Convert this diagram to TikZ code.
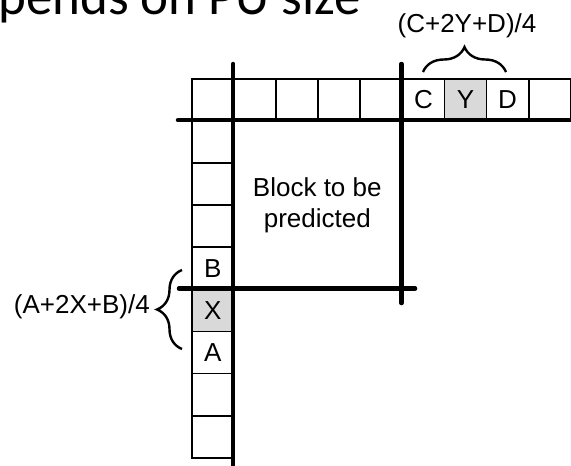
\documentclass[tikz,border=0pt]{standalone}
\usepackage{fontspec}
\setmainfont{Liberation Sans}
\newfontfamily\titlefont{Carlito}
\usetikzlibrary{decorations.pathreplacing}
\begin{document}
\begin{tikzpicture}[x=1pt,y=-1pt,
  cell/.style={draw=black, line width=1.7pt, minimum size=42.1pt, inner sep=0pt, anchor=north west, font=\fontsize{26}{31}\selectfont},
  hot/.style={cell, fill=gray!30},
  thickline/.style={line width=4.5pt, line cap=round},
  bracedec/.style={decorate, decoration={brace, amplitude=25pt}, line width=2.4pt},
  lbl/.style={font=\fontsize{26}{31}\selectfont, inner sep=0pt}]
\useasboundingbox (0,0) rectangle (571,466);
\clip (0,0) rectangle (571,466);
% title (cut off)
\node[font=\titlefont\fontsize{53}{60}\selectfont, anchor=base west, inner sep=0pt] (title) at (-2,14.5) {pends on PU size};
% top row
\foreach \i/\t in {0/,1/,2/,3/,4/,5/C,7/D,8/}{
  \node[cell] (t\i) at ({191+42.1*\i},78) {\t};
}
\node[hot] (t6) at ({191+42.1*6},78) {Y};
% left column
\foreach \j/\t in {1/,2/,3/,4/B,6/A,7/,8/}{
  \node[cell] (l\j) at (191,{78+42.1*\j}) {\t};
}
\node[hot] (l5) at (191,{78+42.1*5}) {X};
% thick lines
\coordinate (v1top) at (233.1,64);
\coordinate (v1bot) at (233.1,475);
\coordinate (h1l) at (178,120.1);
\coordinate (h1r) at (580,120.1);
\coordinate (v2top) at (401.5,64);
\coordinate (v2bot) at (401.5,303);
\coordinate (h2l) at (179,288.5);
\coordinate (h2r) at (415,288.5);
\draw[thickline] (v1top) -- (v1bot);
\draw[thickline] (h1l) -- (h1r);
\draw[thickline] (v2top) -- (v2bot);
\draw[thickline] (h2l) -- (h2r);
% block label
\node[lbl, align=center] (blk) at (317.3,205) {Block to be\\predicted};
% braces
\coordinate (bc1) at (423,72);
\coordinate (bc2) at (506,72);
\draw[bracedec] (bc1) -- (bc2);
\node[lbl, anchor=base] (ftop) at (467,32) {(C+2Y+D)/4};
\coordinate (bl1) at (182,349);
\coordinate (bl2) at (182,270);
\draw[bracedec] (bl1) -- (bl2);
\node[lbl, anchor=base east] (fleft) at (150,313) {(A+2X+B)/4};
\end{tikzpicture}
\end{document}
